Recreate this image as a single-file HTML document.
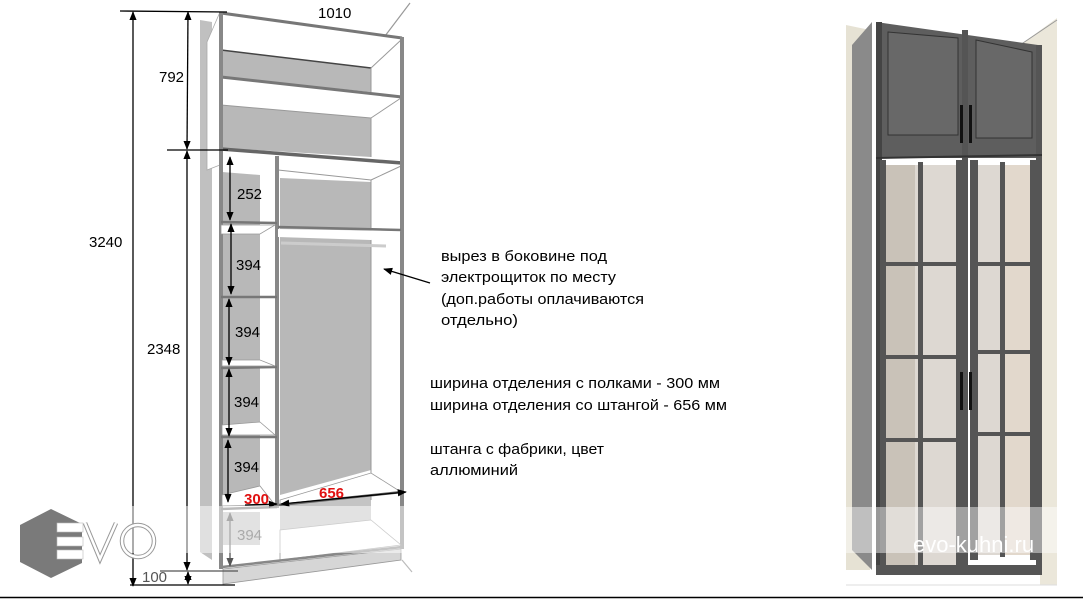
<!DOCTYPE html>
<html><head><meta charset="utf-8"><style>
html,body{margin:0;padding:0;background:#fff;width:1083px;height:599px;overflow:hidden}
svg{display:block}
text{font-family:"Liberation Sans","DejaVu Sans",sans-serif}
</style></head><body>
<svg width="1083" height="599" viewBox="0 0 1083 599" xmlns="http://www.w3.org/2000/svg">
<defs>
<marker id="a" viewBox="0 0 10 10" refX="9" refY="5" markerWidth="7" markerHeight="7" orient="auto-start-reverse"><path d="M0,1 L10,5 L0,9 z" fill="#000"/></marker>
<marker id="g" viewBox="0 0 10 10" refX="9" refY="5" markerWidth="7" markerHeight="7" orient="auto-start-reverse"><path d="M0,1 L10,5 L0,9 z" fill="#555"/></marker>
</defs>
<rect width="1083" height="599" fill="#fff"/>

<!-- wardrobe drawing -->
<line x1="385" y1="36" x2="410" y2="3" stroke="#999" stroke-width="1.2"/>
<line x1="402" y1="560" x2="412" y2="572" stroke="#bbb" stroke-width="1.2"/>
<!-- left side shadow -->
<polygon points="200,20 212,22 212,560 200,552" fill="#c0c0c0"/>
<polygon points="207,42 220,12 220,165 207,170" fill="#fff" stroke="#aaa" stroke-width="0.8"/>
<!-- back gray areas -->
<polygon points="222,50 371,68 371,92 222,77" fill="#b8b8b8"/>
<polygon points="222,105 371,118 371,157 222,148" fill="#b8b8b8"/>
<polygon points="222,172 260,175 260,505 222,505" fill="#b8b8b8"/>
<polygon points="280,178 371,182 371,470 280,495" fill="#b8b8b8"/>
<polygon points="280,505 371,495 371,520 280,530" fill="#c4c4c4"/>
<polygon points="222,512 260,512 260,545 222,545" fill="#c4c4c4"/>
<!-- shelves top faces -->
<polygon points="221,80 401,98 371,118 221,105" fill="#fff"/>
<line x1="221" y1="77" x2="402" y2="97" stroke="#777" stroke-width="3"/>
<line x1="221" y1="105" x2="371" y2="118" stroke="#999" stroke-width="1"/>
<line x1="371" y1="118" x2="401" y2="98" stroke="#999" stroke-width="1"/>
<line x1="221" y1="50" x2="371" y2="68" stroke="#444" stroke-width="1.5"/>
<line x1="371" y1="68" x2="401" y2="40" stroke="#999" stroke-width="1"/>
<line x1="371" y1="68" x2="371" y2="92" stroke="#999" stroke-width="1"/>
<line x1="371" y1="118" x2="371" y2="157" stroke="#999" stroke-width="1"/>
<line x1="221" y1="149" x2="402" y2="163" stroke="#666" stroke-width="3.5"/>
<line x1="278" y1="170" x2="371" y2="180" stroke="#999" stroke-width="1"/>
<line x1="371" y1="180" x2="401" y2="166" stroke="#999" stroke-width="1"/>
<line x1="371" y1="180" x2="371" y2="500" stroke="#999" stroke-width="1"/>
<!-- top panel -->
<line x1="221" y1="13" x2="402" y2="38" stroke="#777" stroke-width="3"/>
<!-- left side -->
<rect x="219" y="12" width="4" height="557" fill="#888"/>
<!-- right side -->
<rect x="400" y="37" width="4" height="512" fill="#888"/>
<!-- divider -->
<rect x="275" y="156" width="4" height="352" fill="#888"/>
<!-- right comp shelf & rod -->
<polygon points="278,229 401,231 371,240 278,237" fill="#fff"/>
<line x1="278" y1="227" x2="401" y2="230" stroke="#777" stroke-width="2.5"/>
<line x1="281" y1="243" x2="386" y2="246" stroke="#ccc" stroke-width="3"/>
<!-- left shelves -->
<g stroke="#777" stroke-width="2.5">
<line x1="221" y1="222" x2="277" y2="223"/>
<line x1="221" y1="297" x2="277" y2="297"/>
<line x1="221" y1="368" x2="277" y2="367"/>
<line x1="221" y1="437" x2="277" y2="437"/>
<line x1="221" y1="509" x2="277" y2="507"/>
</g>
<g fill="#fff" stroke="#999" stroke-width="0.8">
<polygon points="221,225 275,225 260,234 221,234"/>
<polygon points="222,360 260,360 275,366 222,366"/>
<polygon points="222,425 260,422 275,435 222,435"/>
<polygon points="222,495 260,486 275,505 222,506"/>
</g>
<!-- bottom shelf right -->
<polygon points="280,500 371,473 401,492 280,505" fill="#fff" stroke="#999" stroke-width="0.8"/>
<line x1="279" y1="505" x2="402" y2="492" stroke="#666" stroke-width="2.5"/>
<!-- bottom area -->
<polygon points="280,530 371,520 401,545 280,560" fill="#fff" stroke="#999" stroke-width="0.8"/>
<line x1="222" y1="567" x2="402" y2="547" stroke="#888" stroke-width="2.5"/>
<polygon points="223,569 401,549 401,560 223,584" fill="#d6d6d6" stroke="#999" stroke-width="0.8"/>

<!-- dimension lines -->
<g stroke="#000" stroke-width="1.3">
<line x1="120" y1="11" x2="227" y2="12"/>
<line x1="167" y1="150" x2="228" y2="150"/>
<line x1="160" y1="571" x2="238" y2="571" stroke="#555"/>
<line x1="130" y1="585" x2="235" y2="585"/>
<line x1="133" y1="12" x2="133" y2="586" marker-start="url(#a)" marker-end="url(#a)"/>
<line x1="188" y1="12" x2="187" y2="149" marker-start="url(#a)" marker-end="url(#a)"/>
<line x1="187" y1="151" x2="187" y2="570" marker-start="url(#a)" marker-end="url(#a)"/>
<line x1="188" y1="572" x2="188" y2="584" marker-start="url(#a)" marker-end="url(#a)"/>
<line x1="230" y1="157" x2="230" y2="220" marker-start="url(#a)" marker-end="url(#a)"/>
<line x1="231" y1="224" x2="231" y2="294" marker-start="url(#a)" marker-end="url(#a)"/>
<line x1="229" y1="299" x2="229" y2="365" marker-start="url(#a)" marker-end="url(#a)"/>
<line x1="229" y1="369" x2="229" y2="436" marker-start="url(#a)" marker-end="url(#a)"/>
<line x1="228" y1="440" x2="228" y2="502" marker-start="url(#a)" marker-end="url(#a)"/>
<line x1="281" y1="504" x2="406" y2="492" marker-start="url(#a)" marker-end="url(#a)"/>
<line x1="245" y1="505" x2="277" y2="504" marker-end="url(#a)"/>
<line x1="430" y1="283" x2="384" y2="269" marker-end="url(#a)"/>
</g>
<line x1="230" y1="513" x2="230" y2="566" stroke="#555" stroke-width="1.3" marker-start="url(#g)" marker-end="url(#g)"/>

<g font-size="15" fill="#000">
<text x="318" y="18">1010</text>
<text x="159" y="82">792</text>
<text x="89" y="247">3240</text>
<text x="147" y="354">2348</text>
<text x="237" y="199">252</text>
<text x="236" y="270">394</text>
<text x="235" y="337">394</text>
<text x="234" y="407">394</text>
<text x="234" y="472">394</text>
<text x="237" y="540" fill="#555">394</text>
<text x="142" y="582" fill="#555">100</text>
</g>
<g font-size="15" font-weight="bold" fill="#e01010">
<text x="244" y="504">300</text>
<text x="319" y="498">656</text>
</g>

<!-- notes -->
<g font-size="15" fill="#000">
<text x="441" y="261" textLength="166" lengthAdjust="spacingAndGlyphs">вырез в боковине под</text>
<text x="441" y="282" textLength="175" lengthAdjust="spacingAndGlyphs">электрощиток по месту</text>
<text x="441" y="304" textLength="203" lengthAdjust="spacingAndGlyphs">(доп.работы оплачиваются</text>
<text x="441" y="325" textLength="77" lengthAdjust="spacingAndGlyphs">отдельно)</text>
<text x="430" y="388" textLength="290" lengthAdjust="spacingAndGlyphs">ширина отделения с полками - 300 мм</text>
<text x="430" y="410" textLength="297" lengthAdjust="spacingAndGlyphs">ширина отделения со штангой - 656 мм</text>
<text x="430" y="454" textLength="174" lengthAdjust="spacingAndGlyphs">штанга с фабрики, цвет</text>
<text x="430" y="475" textLength="88" lengthAdjust="spacingAndGlyphs">аллюминий</text>
</g>

<!-- watermark band left -->
<rect x="0" y="506" width="410" height="47" fill="#fff" opacity="0.5"/>
<!-- EVO logo -->
<polygon points="20,525 51,509 82,524 82,563 51,578 20,562" fill="#7a7a7a"/>
<g fill="#fff" stroke="#bbb" stroke-width="0.6">
<rect x="57" y="523" width="26" height="9"/>
<rect x="57" y="537" width="26" height="9"/>
<rect x="57" y="550" width="26" height="9"/>
</g>
<polyline points="85,523 100,559 116,523" fill="none" stroke="#999" stroke-width="4.5"/>
<polyline points="85,523 100,559 116,523" fill="none" stroke="#fff" stroke-width="2.5"/>
<circle cx="138" cy="541" r="16" fill="none" stroke="#999" stroke-width="4.5"/>
<circle cx="138" cy="541" r="16" fill="none" stroke="#fff" stroke-width="2.5"/>

<!-- photo right -->
<rect x="846" y="18" width="211" height="567" fill="#fff"/>
<polygon points="846,25 870,30 870,570 846,570" fill="#e6e2d4"/>
<polygon points="1020,45 1057,18 1057,585 1040,585 1040,50" fill="#ebe7da"/>
<line x1="1020" y1="45" x2="1057" y2="20" stroke="#999"/>
<!-- side -->
<polygon points="852,45 872,22 872,570 852,550" fill="#8a8a8a"/>
<!-- top doors -->
<polygon points="876,22 1038,45 1042,158 876,158" fill="#5e5e5e"/>
<rect x="876" y="22" width="6" height="550" fill="#444"/>
<rect x="1036" y="45" width="6" height="525" fill="#555"/>
<rect x="962" y="30" width="6" height="540" fill="#555"/>
<polygon points="888,32 958,38 958,135 888,135" fill="#686868" stroke="#333"/>
<polygon points="976,40 1032,52 1032,138 976,138" fill="#686868" stroke="#333"/>
<line x1="876" y1="158" x2="1042" y2="155" stroke="#333" stroke-width="2"/>
<!-- glass -->
<rect x="885" y="165" width="73" height="400" fill="#ddd8d2"/>
<rect x="976" y="165" width="58" height="390" fill="#ddd8d2"/>
<rect x="885" y="165" width="30" height="400" fill="#c9c2b8"/>
<rect x="1005" y="165" width="29" height="390" fill="#e2d8cc"/>
<g fill="#555">
<rect x="880" y="160" width="6" height="410"/>
<rect x="956" y="160" width="8" height="410"/>
<rect x="970" y="160" width="8" height="400"/>
<rect x="1030" y="160" width="6" height="400"/>
<rect x="918" y="162" width="5" height="405"/>
<rect x="1000" y="162" width="5" height="395"/>
<rect x="885" y="262" width="75" height="4"/>
<rect x="975" y="262" width="58" height="4"/>
<rect x="885" y="355" width="75" height="4"/>
<rect x="975" y="350" width="58" height="4"/>
<rect x="885" y="438" width="75" height="4"/>
<rect x="975" y="432" width="58" height="4"/>
<rect x="876" y="565" width="166" height="10"/>
</g>
<g fill="#111">
<rect x="960" y="105" width="3" height="38"/><rect x="969" y="105" width="3" height="38"/>
<rect x="960" y="372" width="3" height="38"/><rect x="969" y="372" width="3" height="38"/>
</g>
<rect x="846" y="507" width="211" height="46" fill="#fff" opacity="0.45"/>
<text x="913" y="552" font-size="22" fill="#fff">evo-kuhni.ru</text>
<line x1="846" y1="585" x2="1057" y2="585" stroke="#ddd"/>

<!-- bottom line -->
<line x1="0" y1="597.5" x2="1083" y2="597.5" stroke="#000" stroke-width="1.5"/>
</svg>
</body></html>
